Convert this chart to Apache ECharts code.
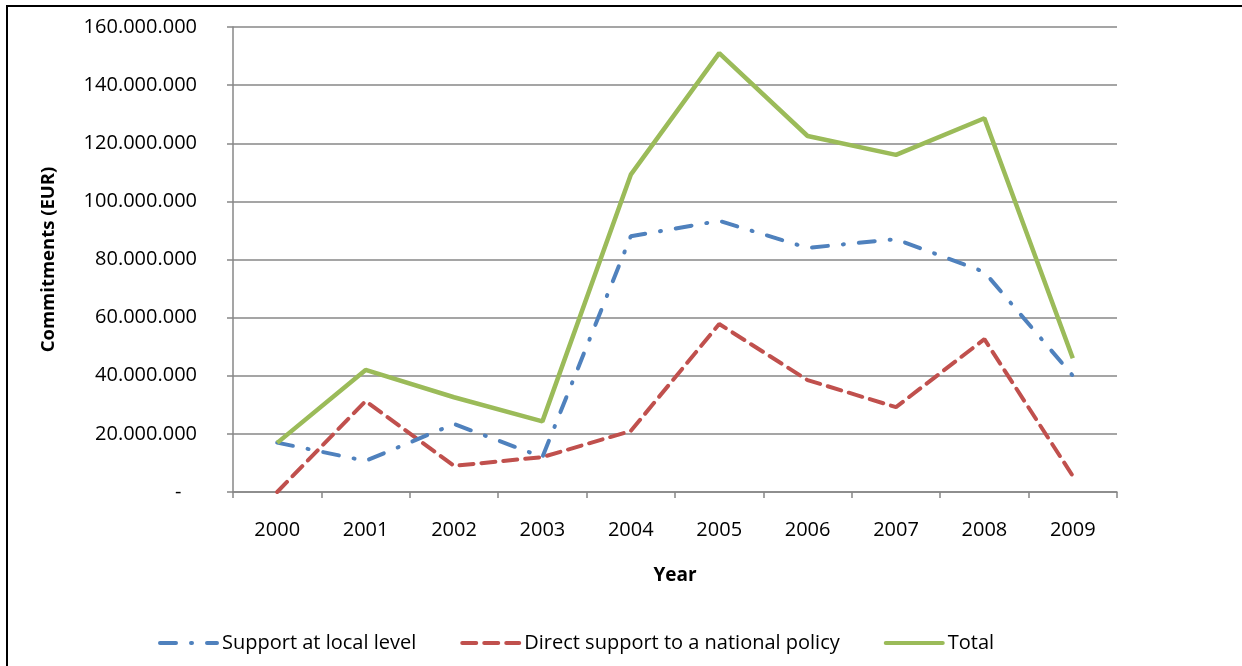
<!DOCTYPE html>
<html>
<head>
<meta charset="utf-8">
<script src="https://cdn.jsdelivr.net/npm/echarts@6/dist/echarts.min.js"></script>
<style>
  html, body { margin: 0; padding: 0; background: #fff; }
  #chart { position: absolute; left: 0; top: 0; width: 1242px; height: 666px; }
  #frame { position: absolute; left: 6px; top: 5px; width: 1300px; height: 700px;
           border-left: 2px solid #000; border-top: 2px solid #000; pointer-events: none; }
</style>
</head>
<body>
<div id="chart"></div>
<div id="frame"></div>
<script>
const FONT = '"Open Sans", "Noto Sans", sans-serif';
const BLUE = "#4F81BD";
const RED = "#C0504D";
const GREEN = "#9BBB59";
const GRID = "#878787";

const years = ["2000", "2001", "2002", "2003", "2004", "2005", "2006", "2007", "2008", "2009"];
const localLevel = [17.0e6, 10.7e6, 23.4e6, 12.0e6, 88.0e6, 93.3e6, 84.0e6, 87.0e6, 75.7e6, 40.0e6];
const nationalPolicy = [0, 31.3e6, 9.0e6, 12.0e6, 21.0e6, 57.8e6, 38.5e6, 29.2e6, 52.6e6, 5.5e6];
const total = [16.9e6, 42.0e6, 32.6e6, 24.3e6, 109.2e6, 151.0e6, 122.5e6, 116.0e6, 128.6e6, 46.0e6];

// Excel-style accounting labels: dots as thousands separators, dash for zero
const fmt = (v) => (v === 0 ? "-   " : String(v).replace(/\B(?=(\d{3})+(?!\d))/g, "."));

const chart = echarts.init(document.getElementById("chart"), null, { renderer: "canvas" });
chart.setOption({
  backgroundColor: "#fff",
  animation: false,
  grid: { left: 233, right: 125, top: 27, bottom: 174 },
  legend: {
    left: 158,
    top: 633,
    padding: 0,
    itemWidth: 57,
    itemHeight: 20,
    itemGap: 44,
    // line-only legend keys (hide the marker circle)
    itemStyle: { color: "transparent", borderWidth: 0, opacity: 0 },
    lineStyle: { width: 4, cap: "round" },
    textStyle: { fontFamily: FONT, fontSize: 20, color: "#000" },
    data: ["Support at local level", "Direct support to a national policy", "Total"],
  },
  xAxis: {
    type: "category",
    data: years,
    boundaryGap: true,
    name: "Year",
    nameLocation: "middle",
    nameGap: 74,
    nameTextStyle: { fontFamily: FONT, fontSize: 19, fontWeight: "bold", color: "#000" },
    axisLine: { lineStyle: { color: GRID, width: 1.5 } },
    axisTick: { show: true, length: 6, lineStyle: { color: GRID, width: 1.5 } },
    axisLabel: { margin: 28, fontFamily: FONT, fontSize: 20, color: "#000" },
  },
  yAxis: {
    type: "value",
    min: 0,
    max: 160000000,
    interval: 20000000,
    name: "Commitments (EUR)",
    nameLocation: "middle",
    nameGap: 175,
    nameRotate: 90,
    nameTextStyle: { fontFamily: FONT, fontSize: 18.5, fontWeight: "bold", color: "#000" },
    axisLine: { show: true, lineStyle: { color: GRID, width: 1.5 } },
    axisTick: { show: true, length: 6, lineStyle: { color: GRID, width: 1.5 } },
    axisLabel: { margin: 36, fontFamily: FONT, fontSize: 20, color: "#000", formatter: fmt },
    splitLine: { lineStyle: { color: GRID, width: 1.5 } },
  },
  series: [
    {
      name: "Support at local level",
      type: "line",
      data: localLevel,
      symbol: "none",
      itemStyle: { color: BLUE },
      lineStyle: { color: BLUE, width: 4, type: [16, 15, 1, 15], cap: "round" },
      z: 3,
    },
    {
      name: "Direct support to a national policy",
      type: "line",
      data: nationalPolicy,
      symbol: "none",
      itemStyle: { color: RED },
      lineStyle: { color: RED, width: 4, type: [14, 8], cap: "round" },
      z: 2,
    },
    {
      name: "Total",
      type: "line",
      data: total,
      symbol: "none",
      itemStyle: { color: GREEN },
      lineStyle: { color: GREEN, width: 4.5 },
      z: 4,
    },
  ],
});
</script>
</body>
</html>
